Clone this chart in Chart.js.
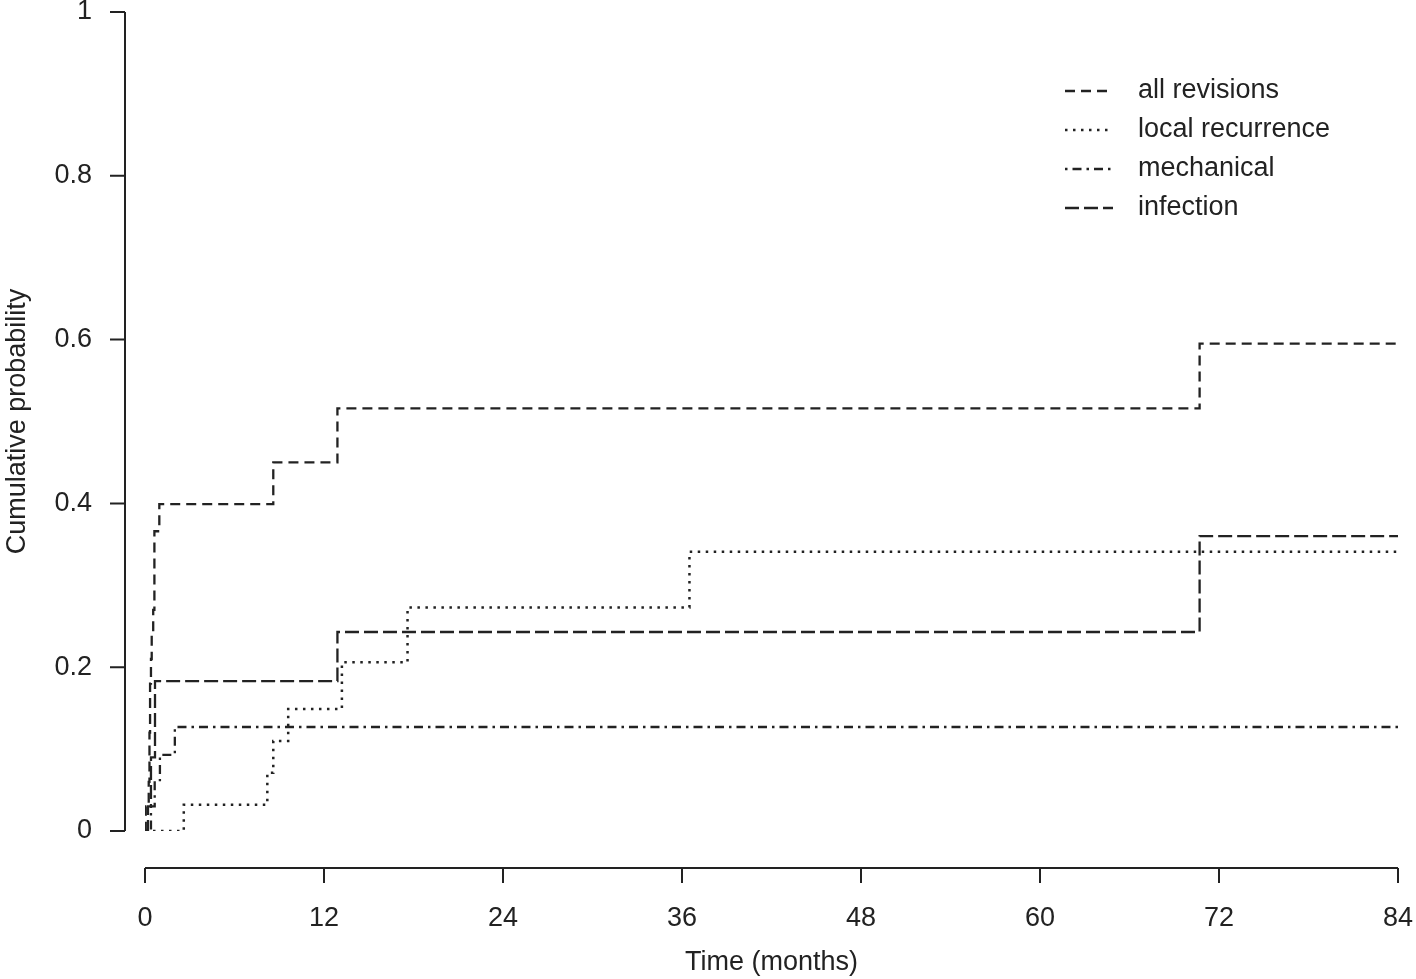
<!DOCTYPE html>
<html lang="en">
<head>
    <meta charset="UTF-8">
    <title>Cumulative probability of revision</title>
    <script src="https://cdn.jsdelivr.net/npm/chart.js"></script>
    <style>
        html, body { margin: 0; padding: 0; background: #fff; }
        #wrap { width: 1416px; height: 979px; }
    </style>
</head>
<body>
<div id="wrap"><canvas id="myChart" width="1416" height="979"></canvas></div>
<script>
    // step curves (time in months, cumulative probability)
    const allTimes = [0, 0.05, 0.25, 0.3, 0.34, 0.4, 0.45, 0.55, 0.63, 0.96, 8.6, 12.9, 70.7, 84];
    const allProb  = [0, 0.03, 0.06, 0.12, 0.18, 0.21, 0.24, 0.27, 0.366, 0.399, 0.45, 0.516, 0.595, 0.595];

    const localTimes = [0, 2.6, 8.2, 8.6, 9.6, 13.2, 17.6, 36.5, 84];
    const localProb  = [0, 0.032, 0.071, 0.11, 0.149, 0.206, 0.273, 0.341, 0.341];

    const mechTimes = [0, 0.4, 0.65, 1.0, 2.0, 84];
    const mechProb  = [0, 0.03, 0.062, 0.093, 0.127, 0.127];

    const infTimes = [0, 0.2, 0.4, 0.67, 12.9, 70.7, 84];
    const infProb  = [0, 0.03, 0.09, 0.183, 0.243, 0.36, 0.36];

    const seriesNames = ['all revisions', 'local recurrence', 'mechanical', 'infection'];
    const xTicks = [0, 12, 24, 36, 48, 60, 72, 84];
    const yTicks = [0, 0.2, 0.4, 0.6, 0.8, 1];
    const yTickLabels = ['0', '0.2', '0.4', '0.6', '0.8', '1'];

    const ink = '#222';
    const font = { family: '"Liberation Sans", Arial, sans-serif', size: 27 };

    function toPoints(times, probs) {
        return times.map((t, i) => ({ x: t, y: probs[i] }));
    }

    function line(label, times, probs, dash, width) {
        return {
            label: label,
            data: toPoints(times, probs),
            borderColor: ink,
            borderWidth: width,
            borderDash: dash,
            borderCapStyle: 'butt',
            stepped: true,
            pointRadius: 0,
            fill: false
        };
    }

    // R style axes, drawn a little away from the plot region
    const rAxes = {
        id: 'rAxes',
        afterDraw(chart) {
            const { ctx, chartArea, scales: { x, y } } = chart;
            ctx.save();
            ctx.strokeStyle = ink;
            ctx.lineWidth = 2;
            ctx.setLineDash([]);
            const ax = chartArea.left - 20;
            ctx.beginPath();
            ctx.moveTo(ax, y.getPixelForValue(0));
            ctx.lineTo(ax, y.getPixelForValue(1));
            yTicks.forEach(v => {
                const py = y.getPixelForValue(v);
                ctx.moveTo(ax, py);
                ctx.lineTo(ax - 15, py);
            });
            const ay = chartArea.bottom + 37;
            ctx.moveTo(x.getPixelForValue(0), ay);
            ctx.lineTo(x.getPixelForValue(84), ay);
            xTicks.forEach(v => {
                const px = x.getPixelForValue(v);
                ctx.moveTo(px, ay);
                ctx.lineTo(px, ay + 15);
            });
            ctx.stroke();
            ctx.restore();
        }
    };

    // legend with line samples in the top right of the plot
    const rLegend = {
        id: 'rLegend',
        afterDraw(chart) {
            const { ctx, chartArea } = chart;
            ctx.save();
            ctx.font = font.size + 'px ' + font.family;
            ctx.textBaseline = 'middle';
            ctx.textAlign = 'left';
            ctx.fillStyle = ink;
            chart.data.datasets.forEach((ds, i) => {
                const yy = chartArea.top + 79 + i * 39;
                ctx.strokeStyle = ink;
                ctx.lineWidth = ds.borderWidth;
                ctx.setLineDash(ds.borderDash);
                ctx.beginPath();
                ctx.moveTo(chartArea.right - 333, yy);
                ctx.lineTo(chartArea.right - 285, yy);
                ctx.stroke();
                ctx.fillText(ds.label, chartArea.right - 260, yy);
            });
            ctx.restore();
        }
    };

    const ctx = document.getElementById('myChart').getContext('2d');
    new Chart(ctx, {
        type: 'line',
        data: {
            datasets: [
                line(seriesNames[0], allTimes, allProb, [10, 6], 2.3),
                line(seriesNames[1], localTimes, localProb, [2.5, 5.5], 2.5),
                line(seriesNames[2], mechTimes, mechProb, [2.5, 5, 9, 5], 2.3),
                line(seriesNames[3], infTimes, infProb, [14, 5], 2.3)
            ]
        },
        options: {
            responsive: false,
            animation: false,
            layout: { padding: { top: 12, right: 18, left: 0, bottom: 0 } },
            plugins: {
                legend: { display: false },
                tooltip: { enabled: false }
            },
            scales: {
                x: {
                    type: 'linear',
                    min: 0,
                    max: 84,
                    afterBuildTicks: s => { s.ticks = xTicks.map(v => ({ value: v })); },
                    afterFit: s => { s.height = 148; s.paddingLeft = 0; s.paddingRight = 0; },
                    grid: { display: false },
                    border: { display: false },
                    ticks: { color: ink, font: font, padding: 63, maxRotation: 0 },
                    title: {
                        display: true,
                        text: 'Time (months)',
                        color: ink,
                        font: font,
                        padding: { top: 0, bottom: 0 }
                    }
                },
                y: {
                    min: 0,
                    max: 1,
                    afterBuildTicks: s => { s.ticks = yTicks.map(v => ({ value: v })); },
                    afterFit: s => { s.width = 145; s.paddingTop = 0; s.paddingBottom = 0; },
                    grid: { display: false },
                    border: { display: false },
                    ticks: {
                        color: ink,
                        font: font,
                        padding: 45,
                        callback: (v) => yTickLabels[yTicks.indexOf(v)]
                    },
                    title: {
                        display: true,
                        text: 'Cumulative probability',
                        color: ink,
                        font: font,
                        padding: { top: 1, bottom: 0 }
                    }
                }
            }
        },
        plugins: [rAxes, rLegend]
    });
</script>
</body>
</html>
